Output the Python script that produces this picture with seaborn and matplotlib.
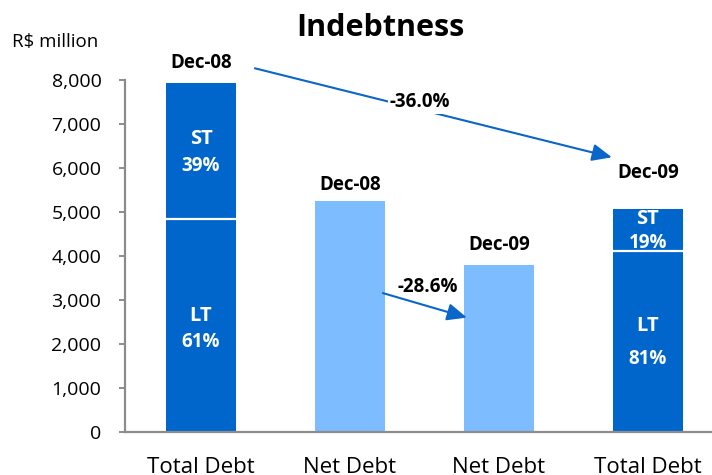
import matplotlib
matplotlib.use("Agg")
import matplotlib.pyplot as plt
import seaborn as sns
import pandas as pd
from matplotlib.ticker import FuncFormatter

# ---- data ----
bar_ids = ["TD08", "ND08", "ND09", "TD09"]
bar_labels = ["Total Debt", "Net Debt", "Net Debt", "Total Debt"]
period_labels = ["Dec-08", "Dec-08", "Dec-09", "Dec-09"]
totals = [7930, 5250, 3790, 5070]
lt_values = [4850, None, None, 4110]
st_share = ["39%", None, None, "19%"]
lt_share = ["61%", None, None, "81%"]
change_labels = ["-36.0%", "-28.6%"]
y_ticks = [0, 1000, 2000, 3000, 4000, 5000, 6000, 7000, 8000]

# ---- style ----
DARK = "#0066CC"
LIGHT = "#7DBDFF"
ARROW = "#0A66C8"
bar_colors = [DARK, LIGHT, LIGHT, DARK]
GREY = "#8C8C8C"

sns.set_style("white")
plt.rcParams["font.family"] = ["Open Sans", "DejaVu Sans"]

df = pd.DataFrame({"id": bar_ids, "total": totals, "label": bar_labels})

fig = plt.figure(figsize=(7.12, 4.75), dpi=100)
ax = fig.add_axes([125 / 712, 43 / 475, 587 / 712, 352 / 475])

sns.barplot(data=df, x="id", y="total", hue="id", order=bar_ids,
            palette=dict(zip(bar_ids, bar_colors)), width=0.47,
            legend=False, ax=ax, saturation=1, edgecolor="none")

# split lines between LT and ST on the total debt bars
patches = ax.patches[:len(bar_ids)]
patch_by_x = sorted(patches, key=lambda p: p.get_x())
for p, lt in zip(patch_by_x, lt_values):
    if lt is not None:
        ax.plot([p.get_x(), p.get_x() + p.get_width()], [lt, lt],
                color="white", lw=1.6, solid_capstyle="butt", zorder=6)

ax.set_xlim(-0.51, 3.43)
ax.set_ylim(0, 8000)
ax.set_yticks(y_ticks)
ax.yaxis.set_major_formatter(FuncFormatter(lambda v, _: f"{int(v):,}"))
ax.set_xticks(range(len(bar_ids)))
ax.set_xticklabels(bar_labels)
ax.set_xlabel("")
ax.set_ylabel("")

for s in ["top", "right"]:
    ax.spines[s].set_visible(False)
for s in ["left", "bottom"]:
    ax.spines[s].set_color(GREY)
    ax.spines[s].set_linewidth(1.6)

ax.tick_params(axis="y", length=4, width=1.4, color=GREY, pad=13,
               labelsize=14, labelcolor="black", left=True)
ax.tick_params(axis="x", length=0, pad=18, labelsize=16, labelcolor="black")

# period labels above bars
period_offsets = [450, 370, 450, 820]
for i, (t, lab, off) in enumerate(zip(totals, period_labels, period_offsets)):
    ax.text(i, t + off, lab, ha="center", va="center", fontsize=13.5,
            fontweight="bold", color="black", clip_on=False)

# ST / LT labels inside stacked bars
for i, (t, lt, st_s, lt_s) in enumerate(zip(totals, lt_values, st_share, lt_share)):
    if lt is None:
        continue
    if i == 0:
        st_pos = (6660, 6050)
        lt_pos = (2640, 2040)
    else:
        st_pos = (4850, 4300)
        lt_pos = (2400, 1650)
    ax.text(i, st_pos[0], "ST", ha="center", va="center", fontsize=14.5,
            fontweight="bold", color="white", zorder=5)
    ax.text(i, st_pos[1], st_s, ha="center", va="center", fontsize=13.5,
            fontweight="bold", color="white", zorder=5)
    ax.text(i, lt_pos[0], "LT", ha="center", va="center", fontsize=14.5,
            fontweight="bold", color="white", zorder=5)
    ax.text(i, lt_pos[1], lt_s, ha="center", va="center", fontsize=13.5,
            fontweight="bold", color="white", zorder=5)

# change arrows
arrow_style = "-|>,head_length=0.8,head_width=0.35"
ax.annotate("", xy=(2.758, 6243), xytext=(0.362, 8266),
            arrowprops=dict(arrowstyle=arrow_style, color=ARROW, lw=1.5,
                            mutation_scale=15, shrinkA=0, shrinkB=0),
            annotation_clip=False)
ax.text(1.47, 7493, change_labels[0], ha="center", va="center", fontsize=13.5,
        fontweight="bold", color="black", zorder=7,
        bbox=dict(facecolor="white", edgecolor="none", pad=1.5))
ax.annotate("", xy=(1.785, 2600), xytext=(1.221, 3157),
            arrowprops=dict(arrowstyle=arrow_style, color=ARROW, lw=1.5,
                            mutation_scale=15, shrinkA=0, shrinkB=0),
            annotation_clip=False)
ax.text(1.523, 3285, change_labels[1], ha="center", va="center", fontsize=13.5,
        fontweight="bold", color="black", zorder=7)

fig.text(380 / 712, 1 - 28 / 475, "Indebtness", ha="center", va="center",
         fontsize=22, fontweight="bold", color="black")
fig.text(12 / 712, 1 - 42 / 475, "R$ million", ha="left", va="center",
         fontsize=13.5, color="black")

fig.savefig("out.png", dpi=100)
